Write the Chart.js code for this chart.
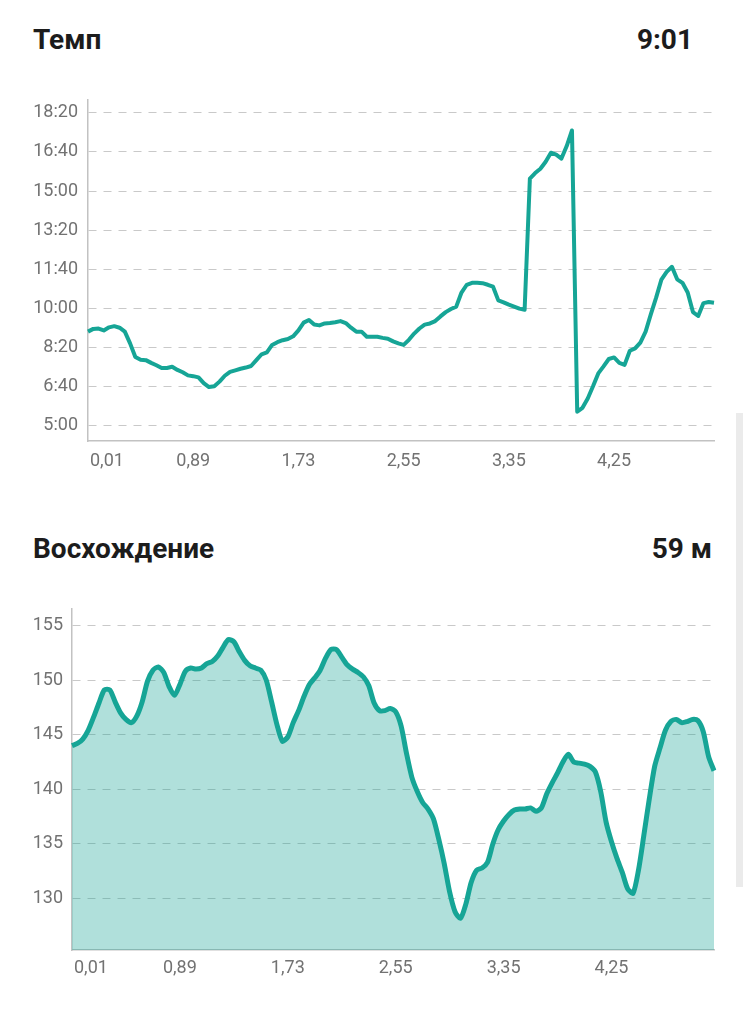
<!DOCTYPE html>
<html lang="ru">
<head>
<meta charset="utf-8">
<script src="https://cdn.jsdelivr.net/npm/chart.js@4.4.1/dist/chart.umd.min.js"></script>
<style>
  html, body { margin: 0; padding: 0; background: #fff; }
  body { width: 743px; height: 1024px; position: relative; overflow: hidden; font-family: Roboto, sans-serif; }
  .title { position: absolute; font-size: 28px; line-height: 28px; font-weight: 700; color: #1c1c1c; white-space: nowrap; }
  .box { position: absolute; left: 0; width: 743px; height: 400px; }
  #scrollbar { position: absolute; left: 736px; top: 413px; width: 7px; height: 474px; background: #ebebeb; }
</style>
</head>
<body>
<div class="title" style="left:33px; top:26px;">Темп</div>
<div class="title" style="right:50px; top:26px;">9:01</div>
<div class="box" style="top:90px;"><canvas id="paceChart"></canvas></div>

<div class="title" style="left:33px; top:535px;">Восхождение</div>
<div class="title" style="right:31px; top:535px;">59 м</div>
<div class="box" style="top:600px;"><canvas id="elevChart"></canvas></div>

<div id="scrollbar"></div>

<script>
// подписи оси X (дистанция, км) - каждая 20-я точка
const tickLabels = ['0,01', '0,89', '1,73', '2,55', '3,35', '4,25'];
const labelEvery = 20;

// темп, секунд на км
const paceTicks = [300, 400, 500, 600, 700, 800, 900, 1000, 1100];
const paceTickLabels = ['5:00', '6:40', '8:20', '10:00', '11:40', '13:20', '15:00', '16:40', '18:20'];
const paceSeconds = [
    540, 547, 548, 543, 551, 554, 550, 540, 510, 475,
    468, 467, 460, 454, 447, 447, 450, 442, 436, 428,
    426, 423, 408, 398, 400, 412, 427, 437, 441, 445,
    448, 452, 467, 482, 487, 506, 513, 518, 521, 528,
    543, 563, 570, 558, 556, 561, 562, 564, 567, 562,
    550, 540, 540, 527, 527, 527, 524, 522, 515, 510,
    506, 519, 535, 548, 558, 561, 567, 579, 590, 598,
    604, 640, 660, 665, 665, 664, 660, 655, 620, 615,
    609, 604, 599, 596, 932, 946, 957, 975, 998, 993,
    983, 1015, 1055, 335, 345, 369, 400, 433, 451, 470,
    474, 460, 455, 491, 497, 512, 540, 585, 627, 673,
    693, 706, 674, 665, 640, 590, 580, 613, 616, 614
];

// высота, м
const elevTicks = [130, 135, 140, 145, 150, 155];
const elevTickLabels = ['130', '135', '140', '145', '150', '155'];
const elevation = [
    144.0, 144.2, 144.6, 145.4, 146.6, 147.9, 149.1, 149.1, 148.0, 147.0,
    146.4, 146.1, 146.7, 148.0, 149.9, 150.9, 151.2, 150.7, 149.4, 148.6,
    149.6, 150.8, 151.1, 151.0, 151.1, 151.5, 151.7, 152.2, 153.0, 153.7,
    153.5, 152.6, 151.8, 151.3, 151.1, 150.9, 150.0, 148.0, 145.9, 144.4,
    144.8, 146.1, 147.2, 148.5, 149.6, 150.2, 150.9, 152.0, 152.8, 152.8,
    152.1, 151.4, 151.0, 150.7, 150.3, 149.5, 147.9, 147.2, 147.2, 147.4,
    147.1, 145.8, 143.3, 141.1, 139.8, 138.8, 138.2, 137.3, 135.4, 133.2,
    130.6, 128.8, 128.2, 129.5, 131.5, 132.6, 132.8, 133.3, 135.0, 136.3,
    137.1, 137.7, 138.1, 138.2, 138.2, 138.3, 138.0, 138.3, 139.6, 140.6,
    141.5, 142.5, 143.2, 142.5, 142.4, 142.3, 142.1, 141.6, 139.8, 137.0,
    135.2, 133.7, 132.4, 130.9, 130.5, 132.6, 135.8, 139.1, 142.1, 143.8,
    145.4, 146.2, 146.4, 146.1, 146.2, 146.4, 146.3, 145.3, 143.0, 141.7
];

const TEAL = '#16a596';
const TICK_COLOR = '#727272';
const AXIS_COLOR = '#c2c2c2';
const GRID_COLOR = '#c9c9c9';

Chart.defaults.font.family = 'Roboto';

// подписи X рисуем сами: первая прижата к оси, как в приложении
const xLabelsPlugin = {
    id: 'xLabels',
    afterDraw(chart, args, opts) {
        const { ctx, chartArea, scales } = chart;
        ctx.save();
        ctx.font = '18px Roboto';
        ctx.fillStyle = TICK_COLOR;
        ctx.textAlign = 'left';
        ctx.textBaseline = 'middle';
        tickLabels.forEach(function (text, k) {
            const px = scales.x.getPixelForValue(k * labelEvery);
            const w = ctx.measureText(text).width;
            ctx.fillText(text, Math.max(px - w / 2, chartArea.left + 2), chartArea.bottom + opts.offset);
        });
        ctx.restore();
    }
};

function buildOptions(cfg) {
    return {
        responsive: true,
        maintainAspectRatio: false,
        animation: false,
        layout: { padding: { top: cfg.padTop, right: 29, left: 0, bottom: 0 } },
        plugins: {
            legend: { display: false },
            tooltip: { enabled: false },
            xLabels: { offset: cfg.labelOffset }
        },
        elements: { point: { radius: 0 } },
        scales: {
            x: {
                type: 'category',
                offset: false,
                grid: { display: false },
                border: { display: true, color: AXIS_COLOR, width: 1.5 },
                ticks: { display: false },
                afterFit: function (s) {
                    s.height = cfg.xHeight;
                    s.paddingLeft = 0; s.paddingRight = 0;
                }
            },
            y: {
                type: 'linear',
                min: cfg.min,
                max: cfg.max,
                afterBuildTicks: function (s) {
                    s.ticks = cfg.ticks.map(v => ({ value: v }));
                },
                afterFit: function (s) {
                    s.width = cfg.yWidth;
                    s.paddingTop = 0; s.paddingBottom = 0;
                },
                grid: { color: GRID_COLOR, lineWidth: 1, drawTicks: false },
                border: { display: true, color: AXIS_COLOR, width: 1.5, dash: [8, 7] },
                ticks: {
                    padding: cfg.yPad,
                    color: TICK_COLOR,
                    font: { size: 18 },
                    callback: function (value) {
                        return cfg.labels[cfg.ticks.indexOf(value)];
                    }
                }
            }
        }
    };
}

document.addEventListener('DOMContentLoaded', function () {
    new Chart(document.getElementById('paceChart'), {
        type: 'line',
        data: {
            labels: paceSeconds.map((_, i) => i),
            datasets: [{
                data: paceSeconds,
                borderColor: TEAL,
                borderWidth: 4,
                borderJoinStyle: 'round',
                tension: 0,
                fill: false
            }]
        },
        options: buildOptions({
            min: 260, max: 1133, ticks: paceTicks, labels: paceTickLabels,
            padTop: 10, xHeight: 49, yWidth: 88, yPad: 10, labelOffset: 20
        }),
        plugins: [xLabelsPlugin]
    });

    new Chart(document.getElementById('elevChart'), {
        type: 'line',
        data: {
            labels: elevation.map((_, i) => i),
            datasets: [{
                data: elevation,
                borderColor: TEAL,
                borderWidth: 5,
                borderJoinStyle: 'round',
                backgroundColor: 'rgba(22, 165, 150, 0.34)',
                tension: 0.25,
                fill: 'start'
            }]
        },
        options: buildOptions({
            min: 125.3, max: 156.5, ticks: elevTicks, labels: elevTickLabels,
            padTop: 9, xHeight: 50, yWidth: 72, yPad: 9, labelOffset: 18
        }),
        plugins: [xLabelsPlugin]
    });
});
</script>
</body>
</html>
